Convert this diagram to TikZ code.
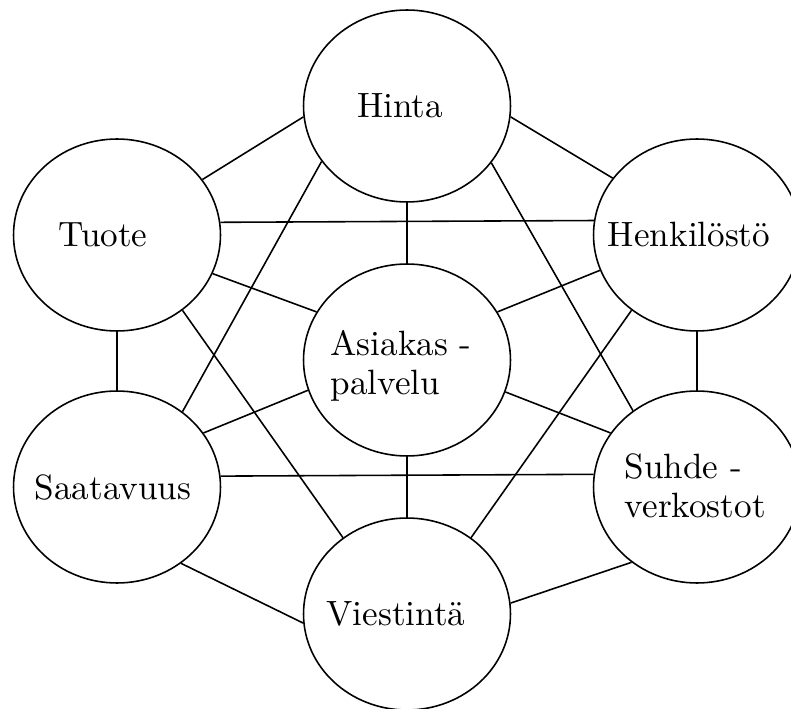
\documentclass[tikz,border=0pt]{standalone}
\usepackage{graphicx}
\usepackage{tikz}
\usetikzlibrary{shapes.geometric}

% text of a bubble: zero width so the ellipse keeps its size, optional x nudge
\newcommand{\bubbletext}[2][0pt]{\makebox[0pt]{\hspace*{#1}\scalebox{2}{#2}\hspace*{-#1}}}

\begin{document}
\begin{tikzpicture}[
  x=0.02cm, y=-0.02cm,
  every node/.style={text=black, font=\fontsize{10}{11.35}\selectfont},
  bubble/.style={ellipse, draw=black, line width=0.9pt,
    minimum width=4.14cm, minimum height=3.84cm, inner sep=0pt},
  link/.style={draw=black, line width=0.9pt}
]
\useasboundingbox (0,0) rectangle (791,709);

% ---- outer ring ----
\node[bubble] (hinta) at (407,106) {\bubbletext[-4pt]{Hinta}};
\node[bubble] (henk)  at (697,235) {\bubbletext[-4.5pt]{Henkilöstö}};
\node[bubble, text height=10pt, text depth=20.2pt] (suhde) at (697,487)
  {\bubbletext[-1pt]{\begin{tabular}[t]{@{}l@{}}Suhde -\\verkostot\end{tabular}}};
\node[bubble] (viest) at (407,614) {\bubbletext[-6.3pt]{Viestintä}};
\node[bubble] (saat)  at (117,487) {\bubbletext[-2.3pt]{Saatavuus}};
\node[bubble] (tuote) at (117,235) {\bubbletext[-8pt]{Tuote}};

% ---- centre ----
\node[bubble, text height=10pt, text depth=15.6pt] (asia) at (407,360)
  {\bubbletext[-3.4pt]{\begin{tabular}[t]{@{}l@{}}Asiakas -\\palvelu\end{tabular}}};

% ---- links from Hinta ----
\draw[link] (hinta.186)   -- (tuote.33.5);
\draw[link] (hinta.354)   -- (henk.146.2);
\draw[link] (hinta.south) -- (asia.north);
\draw[link] (hinta.213.7) -- (saat.49.1);
\draw[link] (hinta.326)   -- (suhde.130.9);

% ---- links from Tuote ----
\draw[link] (tuote.7.1)   -- (henk.172.9);
\draw[link] (tuote.338.9) -- (asia.152.2);
\draw[link] (tuote.south) -- (saat.north);
\draw[link] (tuote.311.3) -- (viest.130.1);

% ---- links from Henkilöstö ----
\draw[link] (henk.200.6)  -- (asia.28.1);
\draw[link] (henk.south)  -- (suhde.north);
\draw[link] (henk.229.1)  -- (viest.50.3);

% ---- links from Saatavuus ----
\draw[link] (saat.32.4)   -- (asia.197.4);
\draw[link] (saat.6.6)    -- (suhde.173.4);
\draw[link] (saat.310.9)  -- (viest.185.5);

% ---- the rest ----
\draw[link] (suhde.148.2) -- (asia.342.6);
\draw[link] (suhde.229.5) -- (viest.6.1);
\draw[link] (asia.south)  -- (viest.north);

\end{tikzpicture}
\end{document}
